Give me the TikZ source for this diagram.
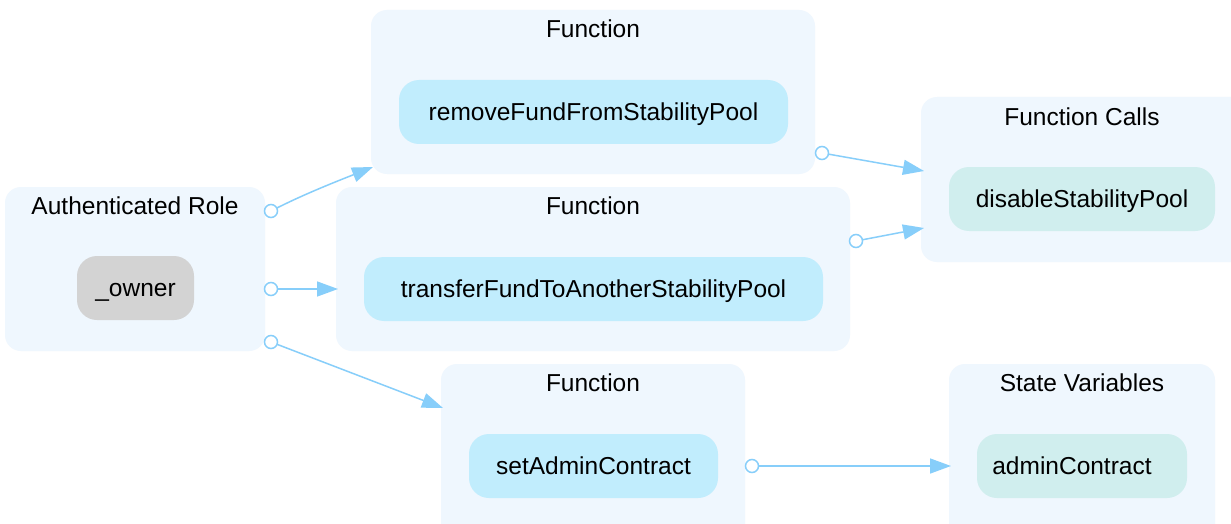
\documentclass[tikz,border=0pt]{standalone}
\usepackage{fontspec}
\setmainfont{Liberation Sans}
\usetikzlibrary{arrows.meta}
\definecolor{clfill}{HTML}{EFF7FE}
\definecolor{fnfill}{HTML}{C1EDFD}
\definecolor{vrfill}{HTML}{D0EEEE}
\definecolor{rolefill}{HTML}{D3D3D3}
\definecolor{edgecol}{HTML}{87CEFA}
\tikzset{
  cluster/.style={fill=clfill, draw=none, rounded corners=16pt, inner sep=0pt},
  txt/.style={font=\fontsize{24.5}{29}\selectfont, text=black, text height=17.5pt, text depth=0pt},
  ctitle/.style={txt, inner sep=0pt, anchor=center},
  item/.style={txt, draw=none, rounded corners=20pt, inner xsep=0pt, inner ysep=23.25pt, minimum height=64pt},
  fn/.style={item, fill=fnfill},
  vr/.style={item, fill=vrfill},
  role/.style={item, fill=rolefill},
  conn/.style={draw=edgecol, line width=1.5pt, -{Triangle[length=21pt, width=15pt, fill=edgecol]}},
  tailc/.style={draw=edgecol, line width=1.5pt, fill=white},
}
\begin{document}
\begin{tikzpicture}[x=1pt,y=-1pt]
\useasboundingbox (0,0) rectangle (1231,524);
\clip (0,0) rectangle (1231,524);
\fill[white] (0,0) rectangle (1231,524);
% clusters
\node[cluster, minimum width=260pt, minimum height=164pt] (cauth) at (135,269) {};
\node[cluster, minimum width=444pt, minimum height=164pt] (cf1) at (593,92) {};
\node[cluster, minimum width=514pt, minimum height=164pt] (cf2) at (593,269) {};
\node[cluster, minimum width=304pt, minimum height=180pt] (cf3) at (593,454) {};
\node[cluster, minimum width=330pt, minimum height=165pt] (ccalls) at (1086,179.5) {};
\node[cluster, minimum width=266pt, minimum height=180pt] (cstate) at (1082,454) {};
% titles
\node[ctitle] (tauth) at (135,206) {Authenticated Role};
\node[ctitle] (tf1) at (593,29) {Function};
\node[ctitle] (tf2) at (593,206) {Function};
\node[ctitle] (tf3) at (593,383) {Function};
\node[ctitle] (tcalls) at (1082,117) {Function Calls};
\node[ctitle] (tstate) at (1082,383) {State Variables};
% items
\node[role, minimum width=117pt] (owner) at (135.5,288) {\_owner};
\node[fn, minimum width=389pt] (remove) at (593.5,112) {removeFundFromStabilityPool};
\node[fn, minimum width=459pt] (transfer) at (593.5,289) {transferFundToAnotherStabilityPool};
\node[fn, minimum width=249pt] (setadmin) at (593.5,466) {setAdminContract};
\node[vr, minimum width=266pt] (disable) at (1082,199) {disableStabilityPool};
\node[vr, minimum width=210pt] (admin) at (1082,466) {};
\node[ctitle] (admintext) at (1072,466) {adminContract};
% connector end points
\coordinate (t1) at (271,211);
\coordinate (h1) at (373,167);
\coordinate (t2) at (271,289);
\coordinate (h2) at (338,289);
\coordinate (t3) at (271,342);
\coordinate (h3) at (443,408);
\coordinate (t4) at (822,153);
\coordinate (h4) at (924,171);
\coordinate (t5) at (856,241);
\coordinate (h5) at (924,228);
\coordinate (t6) at (752,466);
\coordinate (h6) at (951,466);
% connectors
\draw[conn] (t1) .. controls (300,196) and (330,184) .. (h1);
\draw[conn] (t2) -- (h2);
\draw[conn] (t3) -- (h3);
\draw[conn] (t4) -- (h4);
\draw[conn] (t5) -- (h5);
\draw[conn] (t6) -- (h6);
\foreach \t in {t1,t2,t3,t4,t5,t6} \draw[tailc] (\t) circle (6.5pt);
\end{tikzpicture}
\end{document}
